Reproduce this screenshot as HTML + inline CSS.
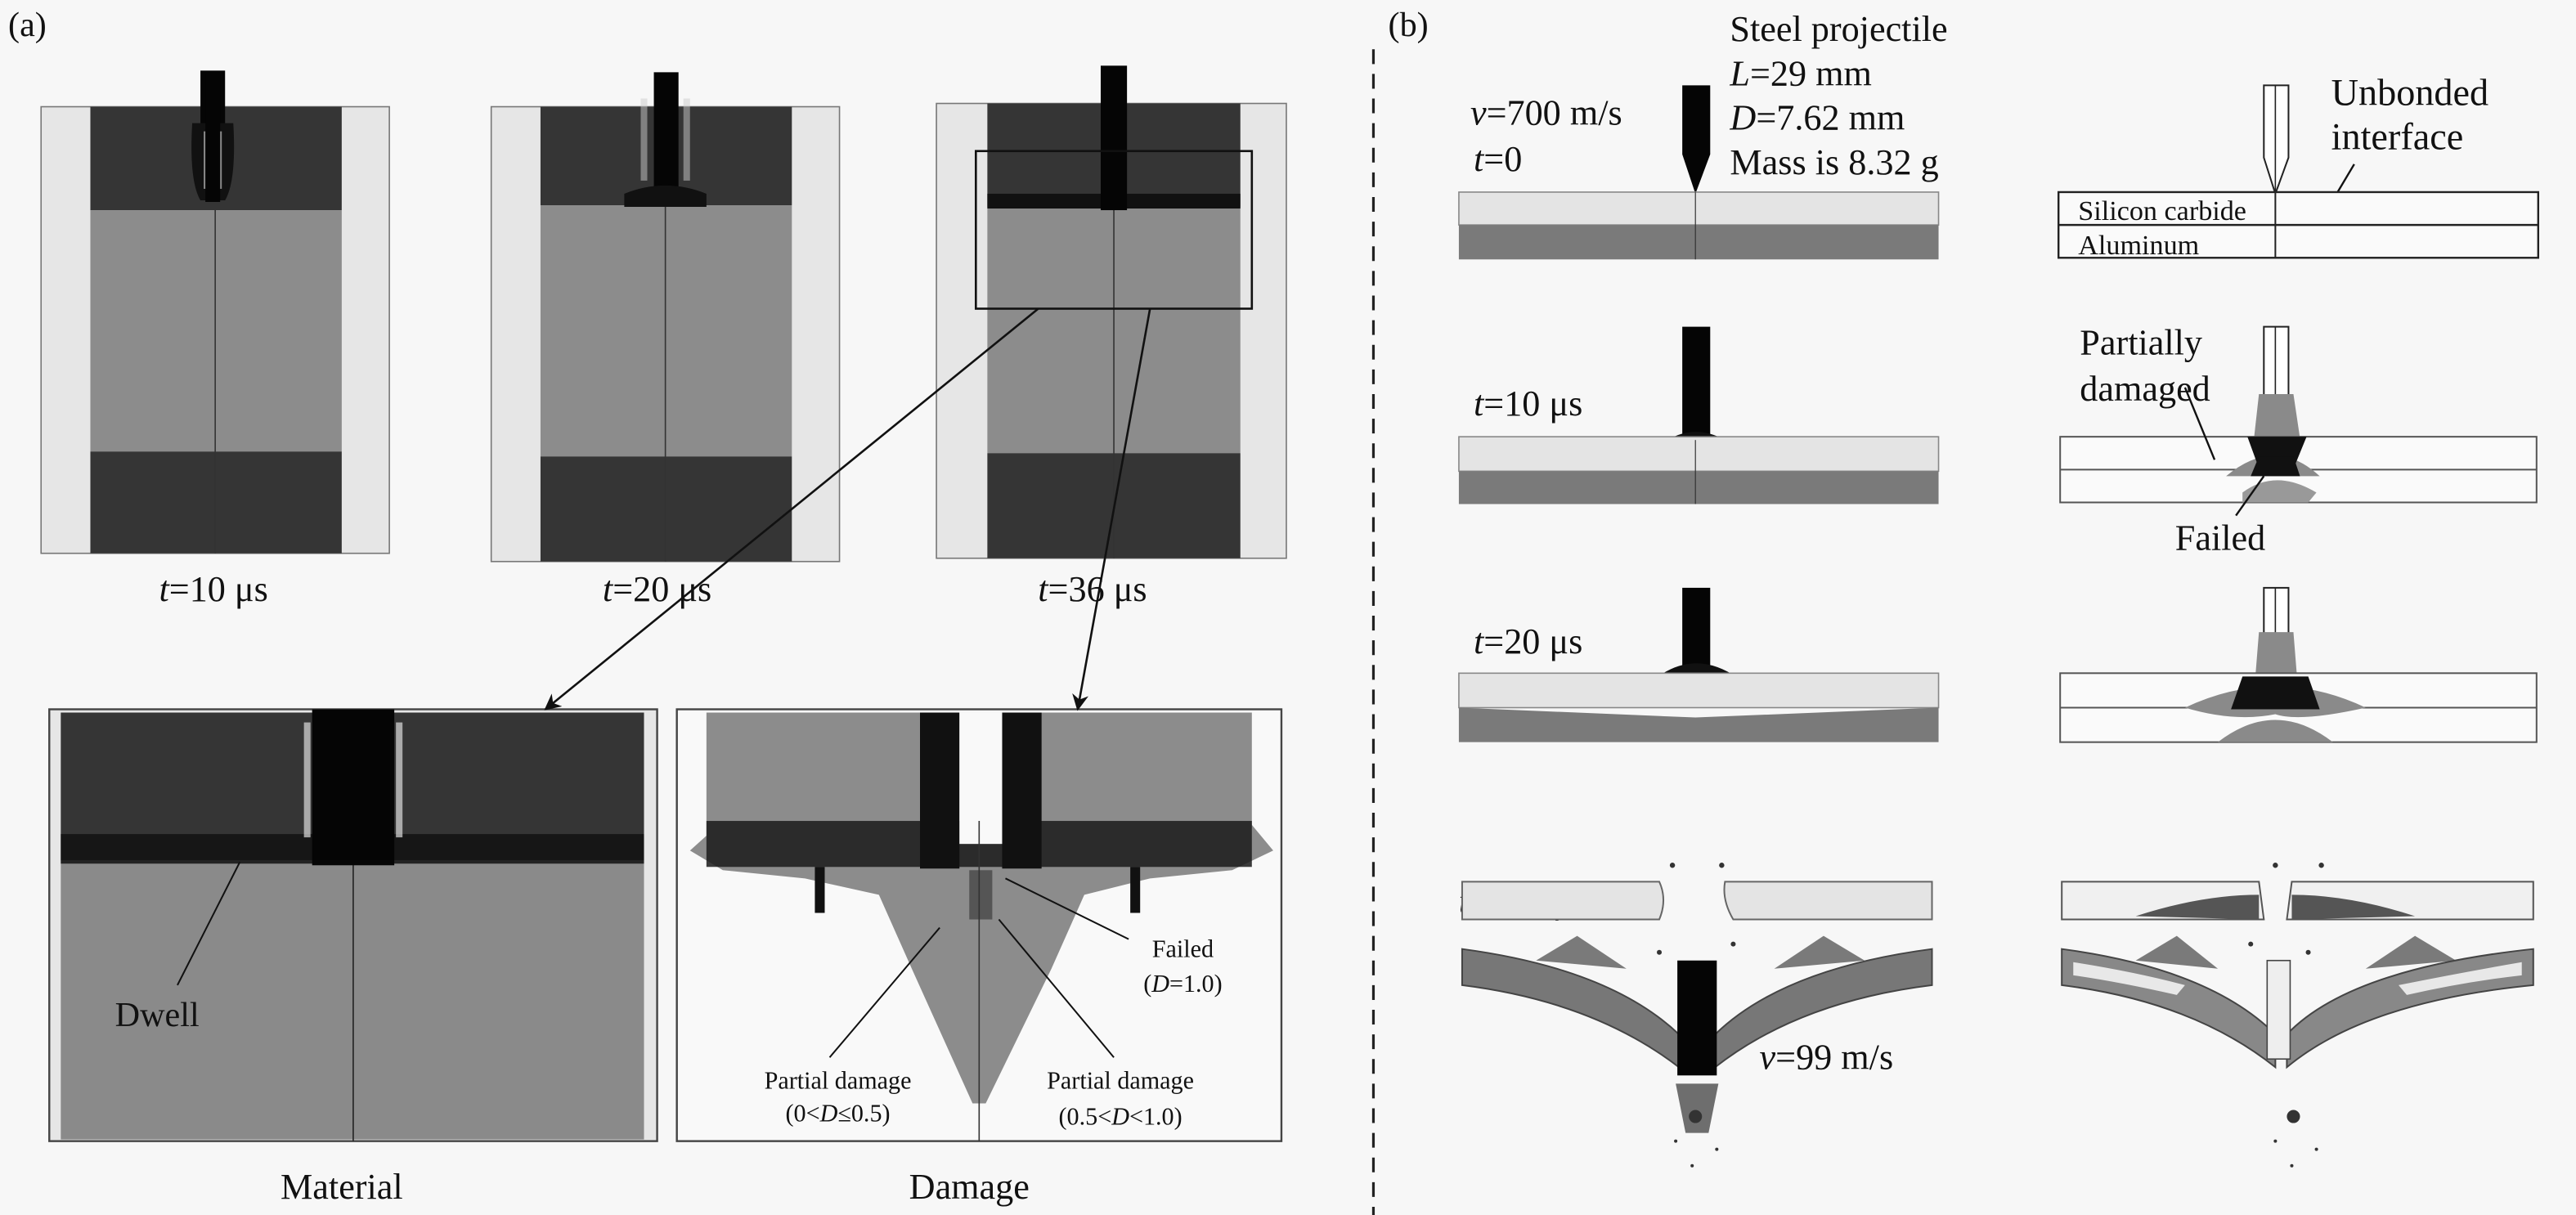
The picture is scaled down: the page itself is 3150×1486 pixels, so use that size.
<!DOCTYPE html>
<html><head><meta charset="utf-8"><style>
html,body{margin:0;padding:0;background:#f7f7f7;}
svg{display:block;}
text{font-family:"Liberation Serif",serif;fill:#111;}
</style></head><body>
<svg width="3150" height="1486" viewBox="0 0 1568 740" preserveAspectRatio="none" xmlns="http://www.w3.org/2000/svg">
<rect width="1568" height="740" fill="#f7f7f7"/>
<text x="5" y="22" font-size="21">(a)</text>
<text x="845" y="22" font-size="21">(b)</text>
<line x1="836" y1="30" x2="836" y2="740" stroke="#222" stroke-width="1.6" stroke-dasharray="9,6"/>

<!-- panel 1 -->
<g>
<rect x="25" y="65" width="212" height="272" fill="#e6e6e6" stroke="#777" stroke-width="0.8"/>
<rect x="55" y="65" width="153" height="63" fill="#353535"/>
<rect x="55" y="128" width="153" height="147" fill="#8c8c8c"/>
<rect x="55" y="275" width="153" height="62" fill="#353535"/>
<line x1="131" y1="128" x2="131" y2="337" stroke="#333" stroke-width="0.8"/>
<rect x="122" y="43" width="15" height="78" fill="#050505"/>
<path d="M117 75 Q115 110 122 122 L137 122 Q144 110 142 75Z" fill="#111"/>
<rect x="124" y="80" width="11" height="35" fill="#ddd" opacity="0.6"/>
<rect x="125" y="45" width="9" height="78" fill="#050505"/>
</g>
<!-- panel 2 -->
<g>
<rect x="299" y="65" width="212" height="277" fill="#e6e6e6" stroke="#777" stroke-width="0.8"/>
<rect x="329" y="65" width="153" height="60" fill="#353535"/>
<rect x="329" y="125" width="153" height="153" fill="#8c8c8c"/>
<rect x="329" y="278" width="153" height="64" fill="#353535"/>
<line x1="405" y1="125" x2="405" y2="342" stroke="#333" stroke-width="0.8"/>
<rect x="398" y="44" width="15" height="80" fill="#050505"/>
<path d="M380 118 Q405 108 430 118 L430 126 L380 126Z" fill="#111"/>
<rect x="390" y="60" width="4" height="50" fill="#ccc" opacity="0.5"/>
<rect x="416" y="60" width="4" height="50" fill="#ccc" opacity="0.5"/>
</g>
<!-- panel 3 -->
<g>
<rect x="570" y="63" width="213" height="277" fill="#e6e6e6" stroke="#777" stroke-width="0.8"/>
<rect x="601" y="63" width="154" height="63" fill="#353535"/>
<rect x="601" y="126" width="154" height="150" fill="#8c8c8c"/>
<rect x="601" y="276" width="154" height="64" fill="#353535"/>
<line x1="678" y1="126" x2="678" y2="340" stroke="#333" stroke-width="0.8"/>
<rect x="601" y="118" width="154" height="9" fill="#111"/>
<rect x="670" y="40" width="16" height="88" fill="#050505"/>
<rect x="594" y="92" width="168" height="96" fill="none" stroke="#111" stroke-width="1.3"/>
</g>
<text x="130" y="366" font-size="22" text-anchor="middle"><tspan font-style="italic">t</tspan>=10 μs</text>
<text x="400" y="366" font-size="22" text-anchor="middle"><tspan font-style="italic">t</tspan>=20 μs</text>
<text x="665" y="366" font-size="22" text-anchor="middle"><tspan font-style="italic">t</tspan>=36 μs</text>

<!-- bottom material -->
<g>
<rect x="30" y="432" width="370" height="263" fill="#e6e6e6" stroke="#444" stroke-width="1.2"/>
<rect x="37" y="434" width="355" height="90" fill="#353535"/>
<rect x="37" y="524" width="355" height="170" fill="#8a8a8a"/>
<rect x="37" y="508" width="355" height="18" fill="#111" opacity="0.85"/>
<line x1="215" y1="524" x2="215" y2="695" stroke="#222" stroke-width="0.8"/>
<rect x="190" y="432" width="50" height="95" fill="#050505"/>
<rect x="185" y="440" width="4" height="70" fill="#ddd" opacity="0.7"/>
<rect x="241" y="440" width="4" height="70" fill="#ddd" opacity="0.7"/>
<line x1="108" y1="600" x2="146" y2="525" stroke="#111" stroke-width="1"/>
<text x="70" y="625" font-size="21">Dwell</text>
</g>
<!-- bottom damage -->
<g>
<rect x="412" y="432" width="368" height="263" fill="#f9f9f9" stroke="#444" stroke-width="1.2"/>
<rect x="430" y="434" width="332" height="90" fill="#8c8c8c"/>
<path d="M420 518 L440 500 L500 505 L550 508 L596 495 L640 508 L700 505 L760 500 L775 518 L750 530 L700 535 L660 545 L640 590 L600 672 L592 672 L555 590 L535 545 L490 535 L440 530Z" fill="#8c8c8c"/>
<rect x="430" y="500" width="332" height="28" fill="#1a1a1a" opacity="0.85"/>
<rect x="560" y="434" width="24" height="95" fill="#111"/>
<rect x="610" y="434" width="24" height="95" fill="#111"/>
<rect x="584" y="434" width="26" height="80" fill="#f9f9f9"/>
<rect x="496" y="528" width="6" height="28" fill="#111"/>
<rect x="688" y="528" width="6" height="28" fill="#111"/>
<rect x="590" y="530" width="14" height="30" fill="#555"/>
<line x1="596" y1="500" x2="596" y2="695" stroke="#333" stroke-width="0.8"/>
<line x1="505" y1="644" x2="572" y2="565" stroke="#111" stroke-width="1"/>
<line x1="678" y1="644" x2="608" y2="560" stroke="#111" stroke-width="1"/>
<line x1="687" y1="572" x2="612" y2="535" stroke="#111" stroke-width="1"/>
<text x="720" y="583" font-size="15" text-anchor="middle">Failed</text>
<text x="720" y="604" font-size="15" text-anchor="middle">(<tspan font-style="italic">D</tspan>=1.0)</text>
<text x="510" y="663" font-size="15" text-anchor="middle">Partial damage</text>
<text x="510" y="683" font-size="15" text-anchor="middle">(0&lt;<tspan font-style="italic">D</tspan>≤0.5)</text>
<text x="682" y="663" font-size="15" text-anchor="middle">Partial damage</text>
<text x="682" y="685" font-size="15" text-anchor="middle">(0.5&lt;<tspan font-style="italic">D</tspan>&lt;1.0)</text>
</g>
<text x="208" y="730" font-size="22" text-anchor="middle">Material</text>
<text x="590" y="730" font-size="22" text-anchor="middle">Damage</text>

<!-- arrows -->
<defs><marker id="ah" markerWidth="10" markerHeight="10" refX="9" refY="5" orient="auto" markerUnits="userSpaceOnUse"><path d="M0 0 L10 5 L0 10 L3 5Z" fill="#111"/></marker></defs>
<line x1="632" y1="188" x2="332" y2="432" stroke="#111" stroke-width="1.3" marker-end="url(#ah)"/>
<line x1="700" y1="188" x2="656" y2="432" stroke="#111" stroke-width="1.3" marker-end="url(#ah)"/>

<!-- (b) left column -->
<text x="895" y="76" font-size="22"><tspan font-style="italic">v</tspan>=700 m/s</text>
<text x="1053" y="25" font-size="22">Steel projectile</text>
<text x="1053" y="52" font-size="22"><tspan font-style="italic">L</tspan>=29 mm</text>
<text x="1053" y="79" font-size="22"><tspan font-style="italic">D</tspan>=7.62 mm</text>
<text x="1053" y="106" font-size="22">Mass is 8.32 g</text>
<text x="897" y="104" font-size="22"><tspan font-style="italic">t</tspan>=0</text>
<path d="M1024 52 L1041 52 L1041 94 L1032 118 L1024 94Z" fill="#050505"/>
<rect x="888" y="117" width="292" height="20" fill="#e4e4e4" stroke="#888" stroke-width="0.8"/>
<rect x="888" y="137" width="292" height="21" fill="#7a7a7a"/>
<line x1="1032" y1="117" x2="1032" y2="158" stroke="#333" stroke-width="0.6"/>

<text x="897" y="253" font-size="22"><tspan font-style="italic">t</tspan>=10 μs</text>
<rect x="1024" y="199" width="17" height="68" fill="#050505"/>
<path d="M1015 268 Q1032 258 1050 268Z" fill="#111"/>
<rect x="888" y="266" width="292" height="21" fill="#e4e4e4" stroke="#888" stroke-width="0.8"/>
<rect x="888" y="287" width="292" height="20" fill="#7a7a7a"/>
<line x1="1032" y1="268" x2="1032" y2="307" stroke="#333" stroke-width="0.6"/>

<text x="897" y="398" font-size="22"><tspan font-style="italic">t</tspan>=20 μs</text>
<rect x="1024" y="358" width="17" height="55" fill="#050505"/>
<path d="M1008 413 Q1032 395 1058 413 L1040 430 L1025 430Z" fill="#111"/>
<rect x="888" y="410" width="292" height="21" fill="#e4e4e4" stroke="#888" stroke-width="0.8"/>
<path d="M888 431 L1032 437 L1180 431 L1180 452 L888 452Z" fill="#7a7a7a"/>

<text x="888" y="556" font-size="22"><tspan font-style="italic">t</tspan>=200 μs</text>
<path d="M890 537 L1010 537 Q1015 548 1010 560 L890 560Z" fill="#e4e4e4" stroke="#666" stroke-width="1"/>
<path d="M1050 537 L1176 537 L1176 560 L1055 560 Q1048 548 1050 537Z" fill="#e4e4e4" stroke="#666" stroke-width="1"/>
<path d="M890 578 Q980 590 1022 630 L1022 650 Q970 610 890 600Z" fill="#777" stroke="#444" stroke-width="1"/>
<path d="M1176 578 Q1085 590 1044 630 L1044 650 Q1095 610 1176 600Z" fill="#777" stroke="#444" stroke-width="1"/>
<rect x="1021" y="585" width="24" height="70" fill="#050505"/>
<path d="M1020 660 L1046 660 L1040 690 L1026 690Z" fill="#333" opacity="0.7"/>
<path d="M935 585 L960 570 L990 590 Z M1135 585 L1110 570 L1080 590Z" fill="#444" opacity="0.7"/>
<text x="1071" y="651" font-size="22"><tspan font-style="italic">v</tspan>=99 m/s</text>

<!-- (b) right column -->
<path d="M1378 52 L1393 52 L1393 96 L1385 118 L1378 96Z" fill="#fff" stroke="#222" stroke-width="1"/>
<line x1="1385" y1="52" x2="1385" y2="118" stroke="#222" stroke-width="0.8"/>
<text x="1419" y="64" font-size="23">Unbonded</text>
<text x="1419" y="91" font-size="23">interface</text>
<line x1="1433" y1="100" x2="1411" y2="137" stroke="#111" stroke-width="1.2"/>
<rect x="1253" y="117" width="292" height="40" fill="#fafafa" stroke="#222" stroke-width="1.2"/>
<line x1="1253" y1="137" x2="1545" y2="137" stroke="#222" stroke-width="1.2"/>
<line x1="1385" y1="117" x2="1385" y2="157" stroke="#222" stroke-width="1"/>
<text x="1265" y="134" font-size="17">Silicon carbide</text>
<text x="1265" y="155" font-size="17">Aluminum</text>

<text x="1266" y="216" font-size="22">Partially</text>
<text x="1266" y="244" font-size="22">damaged</text>
<text x="1324" y="335" font-size="22">Failed</text>
<rect x="1378" y="199" width="15" height="68" fill="#fff" stroke="#222" stroke-width="1"/>
<line x1="1385" y1="199" x2="1385" y2="267" stroke="#222" stroke-width="0.8"/>
<path d="M1375 240 L1396 240 L1400 267 L1372 267Z" fill="#8a8a8a"/>
<rect x="1254" y="266" width="290" height="40" fill="#fafafa" stroke="#555" stroke-width="1"/>
<line x1="1254" y1="286" x2="1544" y2="286" stroke="#555" stroke-width="1"/>
<path d="M1355 290 Q1385 265 1412 290Z" fill="#8a8a8a"/>
<path d="M1365 300 Q1385 285 1410 300 L1405 306 L1365 306Z" fill="#999"/>
<path d="M1368 266 L1404 266 L1395 288 L1376 288Z" fill="#111"/>
<path d="M1375 278 L1396 278 L1400 290 L1370 290Z" fill="#111"/>
<line x1="1348" y1="280" x2="1330" y2="236" stroke="#111" stroke-width="1.2"/>
<line x1="1361" y1="314" x2="1378" y2="290" stroke="#111" stroke-width="1.2"/>

<rect x="1378" y="358" width="15" height="52" fill="#fff" stroke="#222" stroke-width="1"/>
<line x1="1385" y1="358" x2="1385" y2="410" stroke="#222" stroke-width="0.8"/>
<path d="M1375 385 L1396 385 L1398 410 L1373 410Z" fill="#8a8a8a"/>
<rect x="1254" y="410" width="290" height="42" fill="#fafafa" stroke="#555" stroke-width="1"/>
<line x1="1254" y1="431" x2="1544" y2="431" stroke="#555" stroke-width="1"/>
<path d="M1330 431 Q1385 405 1440 431 Q1400 440 1385 435 Q1360 440 1330 431Z" fill="#8a8a8a"/>
<path d="M1350 452 Q1385 425 1420 452Z" fill="#8a8a8a"/>
<path d="M1365 412 L1405 412 L1412 432 L1358 432Z" fill="#111"/>

<path d="M1255 537 L1375 537 L1378 560 L1255 560Z" fill="#f0f0f0" stroke="#555" stroke-width="1"/>
<path d="M1395 537 L1542 537 L1542 560 L1392 560Z" fill="#f0f0f0" stroke="#555" stroke-width="1"/>
<path d="M1300 558 Q1340 545 1375 545 L1375 560Z M1470 558 Q1430 545 1395 545 L1395 560Z" fill="#555"/>
<path d="M1255 578 Q1345 590 1385 630 L1385 650 Q1335 610 1255 600Z" fill="#888" stroke="#444" stroke-width="1"/>
<path d="M1542 578 Q1430 590 1392 630 L1392 650 Q1440 610 1542 600Z" fill="#888" stroke="#444" stroke-width="1"/>
<path d="M1262 586 Q1300 592 1330 600 L1325 606 Q1290 598 1262 594Z M1535 586 Q1500 592 1460 600 L1465 606 Q1500 598 1535 594Z" fill="#e8e8e8"/>
<rect x="1380" y="585" width="14" height="60" fill="#eee" stroke="#444" stroke-width="0.8"/>
<path d="M1300 585 L1325 570 L1350 590 Z M1495 585 L1470 570 L1440 590Z" fill="#444" opacity="0.7"/>

<!-- debris -->
<g fill="#333">
<circle cx="1018" cy="527" r="1.6"/><circle cx="1048" cy="527" r="1.6"/>
<circle cx="1385" cy="527" r="1.6"/><circle cx="1413" cy="527" r="1.6"/>
<circle cx="1032" cy="680" r="4"/><circle cx="1396" cy="680" r="4"/>
<circle cx="1020" cy="695" r="1"/><circle cx="1045" cy="700" r="1"/><circle cx="1030" cy="710" r="1"/>
<circle cx="1385" cy="695" r="1"/><circle cx="1410" cy="700" r="1"/><circle cx="1395" cy="710" r="1"/>
<circle cx="1010" cy="580" r="1.5"/><circle cx="1055" cy="575" r="1.5"/>
<circle cx="1370" cy="575" r="1.5"/><circle cx="1405" cy="580" r="1.5"/>
</g>
</svg>
</body></html>
